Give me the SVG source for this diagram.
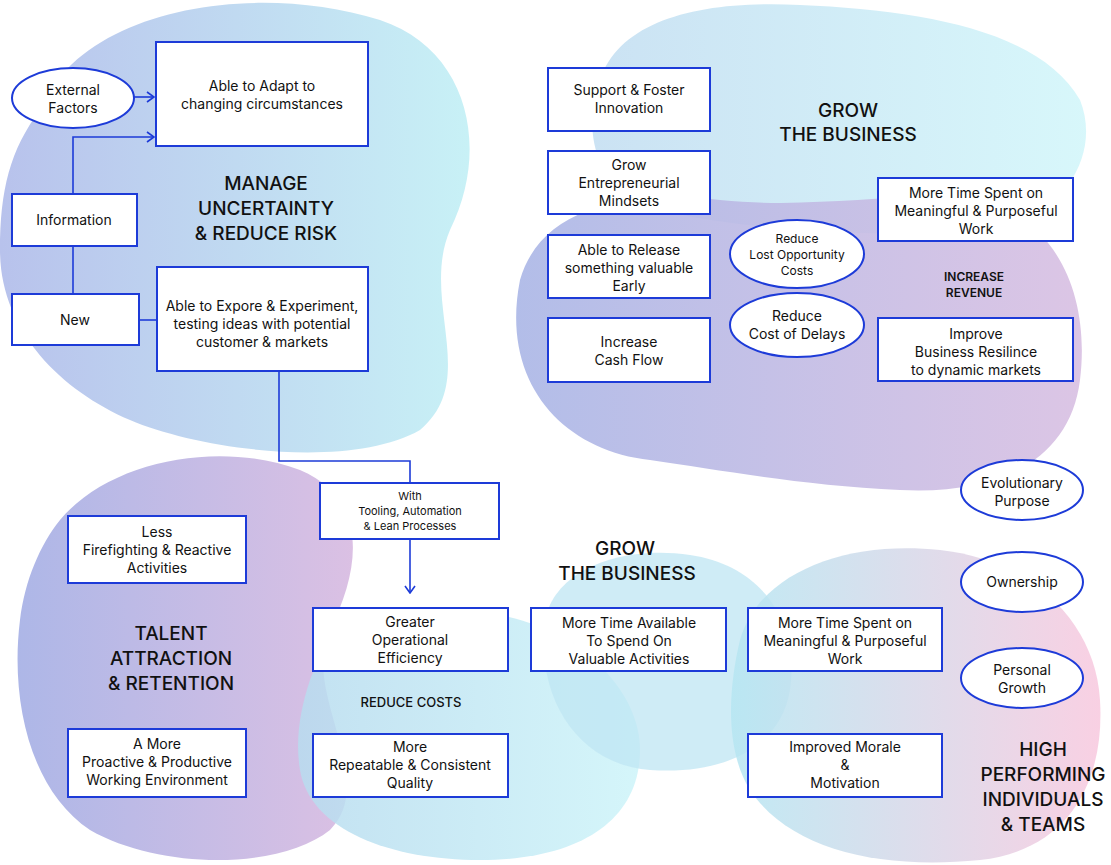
<svg xmlns="http://www.w3.org/2000/svg" width="1111" height="865" viewBox="0 0 1111 865">
<defs>
<linearGradient id="gA" x1="0" y1="0" x2="1" y2="0"><stop offset="0" stop-color="#b8c2ec"/><stop offset="1" stop-color="#c8f1f6"/></linearGradient>
<linearGradient id="gB" x1="0" y1="0" x2="1" y2="0"><stop offset="0" stop-color="#c5dff2"/><stop offset="1" stop-color="#d3f6fa"/></linearGradient>
<linearGradient id="gC" x1="0" y1="0" x2="1" y2="0"><stop offset="0" stop-color="#aab6e6"/><stop offset="1" stop-color="#d8bfe2"/></linearGradient>
<linearGradient id="gD" x1="0" y1="0" x2="1" y2="0"><stop offset="0" stop-color="#a9b3e6"/><stop offset="1" stop-color="#d9bde2"/></linearGradient>
<linearGradient id="gE" x1="0" y1="0" x2="1" y2="0"><stop offset="0" stop-color="#b8dcef"/><stop offset="1" stop-color="#cdf4f9"/></linearGradient>
<linearGradient id="gF" x1="0" y1="0" x2="1" y2="0"><stop offset="0" stop-color="#b6e6f2"/><stop offset="1" stop-color="#f8c8de"/></linearGradient>
<marker id="arr" viewBox="0 0 12 12" refX="11" refY="6" markerWidth="12" markerHeight="12" markerUnits="userSpaceOnUse" orient="auto"><polyline points="4,1 11,6 4,11" fill="none" stroke="#1d3bd8" stroke-width="1.6"/></marker>
<style>
.b{fill:#fff;stroke:#1d3bd8;stroke-width:2}
.t{font-family:Inter,"Noto Sans",sans-serif;font-size:14px;fill:#111;text-anchor:middle}
.s{font-size:12px}
.h{font-family:Inter,"Noto Sans",sans-serif;font-size:19px;font-weight:500;fill:#111;text-anchor:middle}
.m{font-family:Inter,"Noto Sans",sans-serif;font-size:12px;font-weight:600;fill:#111;text-anchor:middle}
.c{fill:none;stroke:#1d3bd8;stroke-width:1.6}
</style>
</defs>
<g id="blobs">
<path d="M40,110 C80,10 250,-20 380,20 C470,50 490,150 450,230 C420,300 480,380 420,430 C350,470 200,450 130,420 C60,390 0,330 0,250 C0,190 10,150 40,110 Z" fill="url(#gA)"/>
<path d="M600,80 C620,20 700,0 800,5 C920,10 1040,30 1080,100 C1100,150 1070,210 1000,230 C900,240 700,230 630,200 C590,170 585,120 600,80 Z" fill="url(#gB)" opacity="0.9"/>
<path d="M520,280 C540,210 620,190 720,200 C820,210 900,190 980,200 C1060,220 1090,300 1080,380 C1070,460 1000,495 900,490 C800,485 720,470 650,460 C560,450 500,380 520,280 Z" fill="url(#gC)" opacity="0.9"/>
<path d="M60,520 C110,460 220,440 300,470 C370,500 360,570 330,630 C300,690 380,780 330,830 C280,870 160,870 90,830 C30,790 10,700 20,620 C25,580 40,545 60,520 Z" fill="url(#gD)" opacity="0.95"/>
<path d="M310,680 C330,620 420,600 500,615 C580,630 640,690 640,750 C640,820 580,860 480,860 C390,860 310,830 300,770 C295,740 300,710 310,680 Z" fill="url(#gE)" opacity="0.85"/>
<path d="M545,620 C555,570 620,545 690,555 C760,565 800,620 790,690 C780,750 720,775 650,770 C580,765 535,700 545,620 Z" fill="#bfe6f3" opacity="0.75"/>
<path d="M740,640 C760,570 850,540 940,550 C1030,560 1095,620 1100,700 C1105,780 1070,850 980,860 C880,870 790,850 750,790 C725,750 728,690 740,640 Z" fill="url(#gF)" opacity="0.85"/>
</g>
<g id="connectors">
<line class="c" x1="134" y1="97" x2="154" y2="97" marker-end="url(#arr)"/>
<polyline class="c" points="73,194 73,137 154,137" marker-end="url(#arr)"/>
<line class="c" x1="73" y1="246" x2="73" y2="294"/>
<line class="c" x1="139" y1="320" x2="157" y2="320"/>
<polyline class="c" points="279,371 279,461 410,461 410,483"/>
<line class="c" x1="410" y1="539" x2="410" y2="593" marker-end="url(#arr)"/>
</g>
<g id="labels">
<text class="h" x="266" y="190">MANAGE</text><text class="h" x="266" y="215">UNCERTAINTY</text><text class="h" x="266" y="240">&amp; REDUCE RISK</text>
<text class="h" x="848" y="117">GROW</text><text class="h" x="848" y="141">THE BUSINESS</text>
<text class="m" x="974" y="281">INCREASE</text><text class="m" x="974" y="297">REVENUE</text>
<text class="h" x="625" y="555">GROW</text><text class="h" x="627" y="580">THE BUSINESS</text>
<text class="h" x="171" y="640">TALENT</text><text class="h" x="171" y="665">ATTRACTION</text><text class="h" x="171" y="690">&amp; RETENTION</text>
<text class="m" x="411" y="707" style="font-weight:500;font-size:13px">REDUCE COSTS</text>
<text class="h" x="1043" y="756">HIGH</text><text class="h" x="1043" y="781">PERFORMING</text><text class="h" x="1043" y="806">INDIVIDUALS</text><text class="h" x="1043" y="831">&amp; TEAMS</text>
</g>
<g id="n1"><rect class="b" x="156" y="42" width="212" height="104"/><text class="t" x="262" y="91">Able to Adapt to</text><text class="t" x="262" y="109">changing circumstances</text></g>
<g id="n2"><ellipse class="b" cx="73" cy="98" rx="61" ry="30"/><text class="t" x="73" y="95">External</text><text class="t" x="73" y="113">Factors</text></g>
<g id="n3"><rect class="b" x="12" y="194" width="125" height="52"/><text class="t" x="74" y="225">Information</text></g>
<g id="n4"><rect class="b" x="12" y="294" width="127" height="51"/><text class="t" x="75" y="325">New</text></g>
<g id="n5"><rect class="b" x="157" y="267" width="211" height="104"/><text class="t" x="262" y="311">Able to Expore &amp; Experiment,</text><text class="t" x="262" y="329">testing ideas with potential</text><text class="t" x="262" y="347">customer &amp; markets</text></g>
<g id="n6"><rect class="b" x="548" y="68" width="162" height="63"/><text class="t" x="629" y="95">Support &amp; Foster</text><text class="t" x="629" y="113">Innovation</text></g>
<g id="n7"><rect class="b" x="548" y="151" width="162" height="63"/><text class="t" x="629" y="170">Grow</text><text class="t" x="629" y="188">Entrepreneurial</text><text class="t" x="629" y="206">Mindsets</text></g>
<g id="n8"><rect class="b" x="548" y="235" width="162" height="63"/><text class="t" x="629" y="255">Able to Release</text><text class="t" x="629" y="273">something valuable</text><text class="t" x="629" y="291">Early</text></g>
<g id="n9"><rect class="b" x="548" y="318" width="162" height="64"/><text class="t" x="629" y="347">Increase</text><text class="t" x="629" y="365">Cash Flow</text></g>
<g id="n10"><ellipse class="b" cx="797" cy="254" rx="67" ry="34"/><text class="t s" x="797" y="243">Reduce</text><text class="t s" x="797" y="259">Lost Opportunity</text><text class="t s" x="797" y="275">Costs</text></g>
<g id="n11"><ellipse class="b" cx="797" cy="325" rx="67" ry="32"/><text class="t" x="797" y="321">Reduce</text><text class="t" x="797" y="339">Cost of Delays</text></g>
<g id="n12"><rect class="b" x="878" y="178" width="195" height="63"/><text class="t" x="976" y="198">More Time Spent on</text><text class="t" x="976" y="216">Meaningful &amp; Purposeful</text><text class="t" x="976" y="234">Work</text></g>
<g id="n13"><rect class="b" x="878" y="318" width="195" height="63"/><text class="t" x="976" y="339">Improve</text><text class="t" x="976" y="357">Business Resilince</text><text class="t" x="976" y="375">to dynamic markets</text></g>
<g id="n14"><ellipse class="b" cx="1022" cy="490" rx="61" ry="30"/><text class="t" x="1022" y="488">Evolutionary</text><text class="t" x="1022" y="506">Purpose</text></g>
<g id="n15"><ellipse class="b" cx="1022" cy="582" rx="61" ry="30"/><text class="t" x="1022" y="587">Ownership</text></g>
<g id="n16"><ellipse class="b" cx="1022" cy="678" rx="61" ry="30"/><text class="t" x="1022" y="675">Personal</text><text class="t" x="1022" y="693">Growth</text></g>
<g id="n17"><rect class="b" x="320" y="483" width="179" height="56"/><text class="t s" x="410" y="500" style="font-size:11px">With</text><text class="t s" x="410" y="515" style="font-size:11px">Tooling, Automation</text><text class="t s" x="410" y="530" style="font-size:11px">&amp; Lean Processes</text></g>
<g id="n18"><rect class="b" x="68" y="516" width="178" height="67"/><text class="t" x="157" y="537">Less</text><text class="t" x="157" y="555">Firefighting &amp; Reactive</text><text class="t" x="157" y="573">Activities</text></g>
<g id="n19"><rect class="b" x="313" y="608" width="195" height="63"/><text class="t" x="410" y="627">Greater</text><text class="t" x="410" y="645">Operational</text><text class="t" x="410" y="663">Efficiency</text></g>
<g id="n20"><rect class="b" x="531" y="608" width="195" height="63"/><text class="t" x="629" y="628">More Time Available</text><text class="t" x="629" y="646">To Spend On</text><text class="t" x="629" y="664">Valuable Activities</text></g>
<g id="n21"><rect class="b" x="748" y="608" width="194" height="63"/><text class="t" x="845" y="628">More Time Spent on</text><text class="t" x="845" y="646">Meaningful &amp; Purposeful</text><text class="t" x="845" y="664">Work</text></g>
<g id="n22"><rect class="b" x="68" y="729" width="178" height="68"/><text class="t" x="157" y="749">A More</text><text class="t" x="157" y="767">Proactive &amp; Productive</text><text class="t" x="157" y="785">Working Environment</text></g>
<g id="n23"><rect class="b" x="313" y="734" width="195" height="63"/><text class="t" x="410" y="752">More</text><text class="t" x="410" y="770">Repeatable &amp; Consistent</text><text class="t" x="410" y="788">Quality</text></g>
<g id="n24"><rect class="b" x="748" y="734" width="194" height="63"/><text class="t" x="845" y="752">Improved Morale</text><text class="t" x="845" y="770">&amp;</text><text class="t" x="845" y="788">Motivation</text></g>
</svg>
